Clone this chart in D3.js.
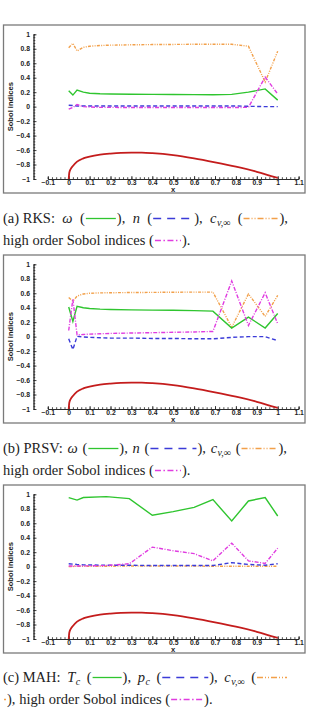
<!doctype html>
<html>
<head>
<meta charset="utf-8">
<title>Sobol indices</title>
<style>
	body { margin: 0; background: #fff; }
	.tick text { font-family: "Liberation Sans", Arial, sans-serif; font-weight: bold; font-size: 6.8px; fill: #222; }
	.tick line, .domain { stroke: #222; stroke-width: 0.8; }
	.axis-title { font-family: "Liberation Sans", Arial, sans-serif; font-weight: bold; font-size: 7.6px; fill: #222; }
	.cap { font-family: "Liberation Serif", "DejaVu Serif", serif; font-size: 14.5px; fill: #222; }
</style>
</head>
<body>
<svg width="310" height="711"></svg>
<script src="https://d3js.org/d3.v7.min.js"></script>
<script>

// --- data ---
const xTicks = [-0.1, 0, 0.1, 0.2, 0.3, 0.4, 0.5, 0.6, 0.7, 0.8, 0.9, 1, 1.1];
const yTicks = [-1, -0.8, -0.6, -0.4, -0.2, 0, 0.2, 0.4, 0.6, 0.8, 1];

const xRKS   = [0, 0.02, 0.04, 0.07, 0.1, 0.15, 0.2, 0.3, 0.4, 0.5, 0.6, 0.69, 0.78, 0.86, 0.94, 1.0];
const rksOmega = [0.22, 0.16, 0.23, 0.20, 0.185, 0.178, 0.175, 0.172, 0.17, 0.168, 0.166, 0.165, 0.17, 0.20, 0.245, 0.09];
const rksN     = [0.02, 0.015, 0.01, 0.01, 0.01, 0.01, 0.01, 0.01, 0.01, 0.01, 0.01, 0.01, 0.01, 0.005, 0.0, 0.0];
const rksCv    = [0.815, 0.875, 0.77, 0.82, 0.835, 0.845, 0.85, 0.855, 0.858, 0.86, 0.862, 0.862, 0.862, 0.835, 0.34, 0.765];
const rksHigh  = [-0.035, -0.01, 0.03, 0.0, -0.005, -0.01, -0.01, -0.012, -0.012, -0.012, -0.012, -0.012, -0.012, -0.01, 0.41, 0.175];

const xPRSV  = [0, 0.02, 0.04, 0.07, 0.1, 0.15, 0.2, 0.3, 0.4, 0.5, 0.6, 0.69, 0.78, 0.86, 0.94, 1.0];
const prsvOmega = [0.41, 0.21, 0.42, 0.40, 0.39, 0.38, 0.375, 0.37, 0.367, 0.364, 0.36, 0.353, 0.118, 0.27, 0.12, 0.32];
const prsvN     = [-0.03, -0.18, 0.005, -0.005, -0.01, -0.015, -0.02, -0.02, -0.025, -0.025, -0.03, -0.03, -0.01, 0.0, 0.0, -0.055];
const prsvCv    = [0.54, 0.49, 0.56, 0.59, 0.60, 0.605, 0.607, 0.61, 0.612, 0.614, 0.616, 0.616, 0.13, 0.59, 0.28, 0.57];
const prsvHigh  = [0.085, 0.52, 0.025, 0.03, 0.035, 0.04, 0.045, 0.05, 0.055, 0.06, 0.065, 0.072, 0.77, 0.155, 0.607, 0.178];

const xMAH   = [0, 0.04, 0.07, 0.18, 0.29, 0.40, 0.5, 0.6, 0.69, 0.78, 0.86, 0.94, 1.0];
const mahTc   = [0.955, 0.92, 0.955, 0.968, 0.94, 0.71, 0.76, 0.82, 0.926, 0.632, 0.908, 0.955, 0.70];
const mahPc   = [0.04, 0.03, 0.025, 0.02, 0.02, 0.015, 0.015, 0.015, 0.015, 0.055, 0.03, 0.02, 0.04];
const mahCv   = [0.0, 0.005, 0.005, 0.005, 0.01, 0.01, 0.01, 0.008, 0.005, 0.005, 0.005, 0.005, 0.005];
const mahHigh = [0.01, 0.01, 0.01, 0.015, 0.04, 0.27, 0.22, 0.18, 0.08, 0.325, 0.08, 0.045, 0.255];

// airfoil upper surface drawn at the bottom of each panel
const airfoilX = [0, 0.003, 0.01, 0.02, 0.04, 0.07, 0.1, 0.15, 0.2, 0.25, 0.3, 0.35, 0.4, 0.5, 0.6, 0.7, 0.8, 0.9, 1.0];
const airfoilY = [-1, -0.91, -0.86, -0.82, -0.76, -0.715, -0.69, -0.663, -0.648, -0.638, -0.635, -0.636, -0.643, -0.67, -0.715, -0.77, -0.83, -0.9, -0.985];

// --- styles ---
const C = {
	green: "#2fc52f",
	blue: "#3b3bd8",
	orange: "#f2a04a",
	magenta: "#e03ce0",
	red: "#c41c1c"
};
const DASH = {
	solid: null,
	dash: "4,2.5",
	dashdotdot: "3,1.3,1,1.3,1,1.3",
	dashdot: "4,1.5,1,1.5"
};
const CAPDASH = {
	solid: null,
	dash: "8,6",
	dashdotdot: "6,2,1,2,1,2",
	dashdot: "6,2.5,1.5,2.5"
};

const panels = [
	{ top: 25, xs: xRKS, series: [
		{ v: rksCv, c: C.orange, d: "dashdotdot" },
		{ v: rksOmega, c: C.green, d: "solid" },
		{ v: rksN, c: C.blue, d: "dash" },
		{ v: rksHigh, c: C.magenta, d: "dashdot" } ] },
	{ top: 255, xs: xPRSV, series: [
		{ v: prsvCv, c: C.orange, d: "dashdotdot" },
		{ v: prsvOmega, c: C.green, d: "solid" },
		{ v: prsvN, c: C.blue, d: "dash" },
		{ v: prsvHigh, c: C.magenta, d: "dashdot" } ] },
	{ top: 485, xs: xMAH, series: [
		{ v: mahCv, c: C.orange, d: "dashdotdot" },
		{ v: mahTc, c: C.green, d: "solid" },
		{ v: mahPc, c: C.blue, d: "dash" },
		{ v: mahHigh, c: C.magenta, d: "dashdot" } ] }
];

const svg = d3.select( "svg" );

const x = d3.scaleLinear()
	.domain( [ -0.1, 1.1 ] )
	.range( [ 47.8, 298.6 ] );

const yAxisX = 33.5;

panels.forEach( p => {

	const y = d3.scaleLinear()
		.domain( [ -1, 1 ] )
		.range( [ p.top + 154, p.top + 9.3 ] );

	const g = svg.append( "g" );

	// frame
	g.append( "rect" )
		.attr( "x", 3.5 ).attr( "y", p.top )
		.attr( "width", 301.5 ).attr( "height", 168 )
		.attr( "fill", "none" )
		.attr( "stroke", "#7a7a7a" )
		.attr( "stroke-width", 1.3 );

	// y axis, major + minor
	g.append( "g" )
		.attr( "transform", `translate(${ yAxisX },0)` )
		.call( d3.axisLeft( y ).tickValues( d3.range( -1, 1.0001, 0.04 ) ).tickSize( -1.8 ).tickFormat( "" ) );
	g.append( "g" )
		.attr( "transform", `translate(${ yAxisX },0)` )
		.call( d3.axisLeft( y ).tickValues( yTicks ).tickSize( -3 ).tickSizeOuter( 0 ).tickPadding( 3.5 ).tickFormat( d3.format( "" ) ) );

	// x axis at y = -1
	g.append( "g" )
		.attr( "transform", `translate(0,${ y( -1 ) })` )
		.call( d3.axisBottom( x ).tickValues( d3.range( -0.1, 1.1001, 0.02 ) ).tickSize( -1.8 ).tickFormat( "" ) );
	g.append( "g" )
		.attr( "transform", `translate(0,${ y( -1 ) })` )
		.call( d3.axisBottom( x ).tickValues( xTicks ).tickSize( -3 ).tickSizeOuter( 0 ).tickPadding( 1 ).tickFormat( d3.format( "" ) ) );

	g.selectAll( ".tick text" ).attr( "font-size", null );

	g.append( "text" )
		.attr( "class", "axis-title" )
		.attr( "x", x( 0.5 ) ).attr( "y", p.top + 166.8 )
		.attr( "text-anchor", "middle" )
		.text( "x" );

	g.append( "text" )
		.attr( "class", "axis-title" )
		.attr( "transform", `translate(12.5,${ y( 0 ) }) rotate(-90)` )
		.attr( "text-anchor", "middle" )
		.text( "Sobol indices" );

	const line = d3.line()
		.x( d => x( d[0] ) )
		.y( d => y( d[1] ) );

	g.append( "path" )
		.datum( d3.zip( airfoilX, airfoilY ) )
		.attr( "fill", "none" )
		.attr( "stroke", C.red )
		.attr( "stroke-width", 1.8 )
		.attr( "d", line.curve( d3.curveMonotoneX ) );

	line.curve( d3.curveLinear );

	p.series.forEach( s => {
		g.append( "path" )
			.datum( d3.zip( p.xs, s.v ) )
			.attr( "fill", "none" )
			.attr( "stroke", s.c )
			.attr( "stroke-width", 1.4 )
			.attr( "stroke-dasharray", DASH[ s.d ] )
			.attr( "d", line );
	});
});

// --- captions ---
const sp = " ";
const captions = [
	{ y: 223, justify: 288, tokens: [ "(a) RKS:", sp, { m: "ω" }, sp, "(", { s: "solid", c: C.green, w: 30 }, "),", sp, { m: "n" }, sp, "(", { s: "dash", c: C.blue, w: 40 }, "),", sp, { m: "c", sub: "v,∞" }, sp, "(", { s: "dashdotdot", c: C.orange, w: 35 }, ")," ] },
	{ y: 245, tokens: [ "high", sp, "order", sp, "Sobol", sp, "indices", sp, "(", { s: "dashdot", c: C.magenta, w: 26 }, ")." ] },
	{ y: 453, justify: 287, tokens: [ "(b) PRSV:", sp, { m: "ω" }, sp, "(", { s: "solid", c: C.green, w: 30 }, "),", sp, { m: "n" }, sp, "(", { s: "dash", c: C.blue, w: 46 }, "),", sp, { m: "c", sub: "v,∞" }, sp, "(", { s: "dashdotdot", c: C.orange, w: 36 }, ")," ] },
	{ y: 475, tokens: [ "high", sp, "order", sp, "Sobol", sp, "indices", sp, "(", { s: "dashdot", c: C.magenta, w: 26 }, ")." ] },
	{ y: 682, justify: 288, tokens: [ "(c) MAH:", sp, { m: "T", sub: "c" }, sp, "(", { s: "solid", c: C.green, w: 29 }, "),", sp, { m: "p", sub: "c" }, sp, "(", { s: "dash", c: C.blue, w: 46 }, "),", sp, { m: "c", sub: "v,∞" }, sp, "(", { s: "dashdotdot", c: C.orange, w: 30 } ] },
	{ y: 704, tokens: [ { s: "solid", c: C.orange, w: 2 }, "),", sp, "high", sp, "order", sp, "Sobol", sp, "indices", sp, "(", { s: "dashdot", c: C.magenta, w: 32 }, ")." ] }
];

const cap = svg.append( "g" );

function measure( str, italic, size ) {
	const t = cap.append( "text" )
		.attr( "class", "cap" )
		.style( "font-style", italic ? "italic" : null )
		.style( "font-size", size ? size + "px" : null )
		.text( str );
	const w = t.node().getComputedTextLength();
	t.remove();
	return w;
}

const spaceW = 3.7;

function tokenWidth( tk ) {
	if ( tk === sp ) return spaceW;
	if ( typeof tk === "string" ) return measure( tk );
	if ( tk.s ) return tk.w + 2;
	let w = measure( tk.m, true );
	if ( tk.sub ) w += measure( tk.sub, true, 10 ) + 0.5;
	return w;
}

captions.forEach( line => {
	const widths = line.tokens.map( tokenWidth );
	const natural = d3.sum( widths );
	const nSp = line.tokens.filter( t => t === sp ).length;
	const extra = line.justify ? ( line.justify - 3 - natural ) / nSp : 0;

	let cx = 3;
	line.tokens.forEach( ( tk, i ) => {
		if ( tk === sp ) {
			cx += spaceW + extra;
			return;
		}
		if ( typeof tk === "string" ) {
			cap.append( "text" ).attr( "class", "cap" )
				.attr( "x", cx ).attr( "y", line.y ).text( tk );
		} else if ( tk.s ) {
			cap.append( "line" )
				.attr( "x1", cx + 1 ).attr( "x2", cx + 1 + tk.w )
				.attr( "y1", line.y - 4.5 ).attr( "y2", line.y - 4.5 )
				.attr( "stroke", tk.c )
				.attr( "stroke-width", 1.3 )
				.attr( "stroke-dasharray", CAPDASH[ tk.s ] );
		} else {
			cap.append( "text" ).attr( "class", "cap" )
				.attr( "x", cx ).attr( "y", line.y )
				.style( "font-style", "italic" )
				.text( tk.m );
			if ( tk.sub ) {
				cap.append( "text" ).attr( "class", "cap" )
					.attr( "x", cx + measure( tk.m, true ) + 0.5 ).attr( "y", line.y + 2.5 )
					.style( "font-style", "italic" )
					.style( "font-size", "10px" )
					.text( tk.sub );
			}
		}
		cx += widths[ i ];
	});
});

</script>
</body>
</html>
